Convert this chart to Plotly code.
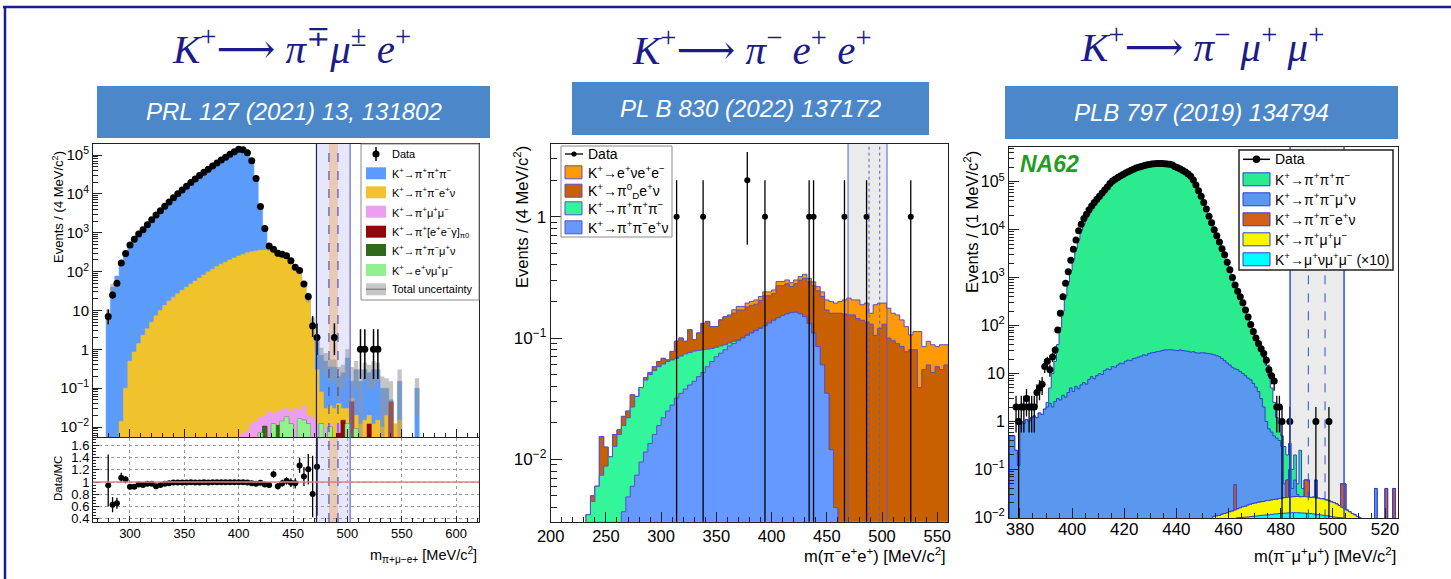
import numpy as np
import plotly.graph_objects as go

W, H = 1451, 579
def X(px): return px / W
def Y(py): return 1 - py / H

SANS = "Liberation Sans, Arial, sans-serif"
SERIF = "Liberation Serif, DejaVu Serif, serif"
FLOOR = 1e-9
NAVY = "#1c1c88"

# ============ Panel 1 : K+ -> pi mu e  (4 MeV bins, first centre 280) ============
p1_centre0, p1_bw = 280, 4
p1_data = [
    7, 25, 50, 165, 290, 480, 680, 920, 1200, 1600,
    2150, 2850, 3700, 4800, 6200, 7900, 10000, 12600, 15800, 19500,
    24000, 29500, 36000, 43000, 52000, 62000, 74000, 88000, 104000, 122000,
    140000, 137000, 115000, 71000, 25000, 4700, 1290, 455, 375, 295,
    280, 255, 190, 130, 107, 48, 23, 4, 2, 0,
    0, 0, 2, 0, 0, 0, 0, 0, 1, 1,
    0, 1, 1, 0, 0, 0, 0, 0, 0, 0,
    0, 0]
p1_mc_total = [
    7.4, 40, 77, 154, 279, 522, 739, 958, 1263, 1649,
    2216, 3065, 3895, 4948, 6327, 7980, 10100, 12700, 15900, 19600,
    24200, 29700, 36200, 43300, 52300, 62300, 74300, 88300, 104500, 122500,
    140500, 137500, 116000, 72400, 25800, 4750, 1344, 479, 332, 317,
    286, 250, 192, 133, 84, 44, 19, 5, 1.6, 0.7,
    0.5, 0.35, 0.35, 0.2, 0.25, 0.6, 0.15, 0.3, 0.15, 0.3,
    0.25, 0.3, 0.3, 0.1, 0.1, 0.05, 0, 0.15, 0, 0,
    0, 0.1]
p1_mc_unc = [3, 8] + [0] * 44 + [
    3, 1.5, 0.6, 0.4, 0.3, 0.2, 0.2, 0.15, 0.15, 0.4,
    0.2, 0.2, 0.15, 0.15, 0.15, 0.2, 0.15, 0.1, 0.08, 0.1,
    0, 0.15, 0, 0, 0, 0.08]
p1_top_pipienu = [
    0, 0, 0, 0.014, 0.1, 0.5, 0.85, 1.4, 2.3, 3.4,
    5.0, 7.3, 10, 13.5, 17.5, 22, 27, 33, 40, 48,
    57, 68, 82, 98, 115, 135, 155, 175, 200, 225,
    250, 275, 305, 325, 340, 352, 358, 345, 320, 297,
    275, 250, 190, 133, 84, 44, 19, 4.5, 0.3, 0.08,
    0.03, 0.035, 0.03, 0.04, 0.03, 0.03, 0.055, 0.02, 0.012, 0.015,
    0.02, 0.012, 0.015, 0.01, 0.02, 0.045, 0.012, 0.015, 0, 0,
    0, 0]
p1_top_pimumu = [0] * 31 + [
    0.007, 0.008, 0.012, 0.014, 0.018, 0.02, 0.025, 0.022, 0.025,
    0.028, 0.03, 0.025, 0.03, 0.028, 0.035, 0.02, 0.018, 0.012, 0.012,
    0.01, 0.012, 0, 0.012, 0, 0.01, 0, 0, 0, 0] + [0] * 12
p1_eeg_bins = [492, 496, 504, 520, 540]
p1_eeg_top = [0.007, 0.015, 0.045, 0.012, 0.045]
p1_pipimunu_bins = [424, 436, 456]
p1_pipimunu_top = [0.0105, 0.011, 0.008]
p1_enumumu_bins = [420, 432, 440, 444, 448, 456, 460, 464, 476, 484, 500, 508]
p1_enumumu_top = [0.007, 0.012, 0.014, 0.018, 0.012, 0.016, 0.015, 0.012, 0.012, 0.01, 0.012, 0.009]

# ============ Panel 2 : K+ -> pi- e+ e+  (4 MeV bins from 200) ============
p2_edge0, p2_bw = 200, 4
p2_top_pipienu = [0] * 15 + [
    0.003, 0.0037, 0.0049, 0.006, 0.0074, 0.0095, 0.0115, 0.0135, 0.016, 0.019,
    0.022, 0.025, 0.028, 0.032, 0.035, 0.038, 0.041, 0.044, 0.048, 0.052,
    0.058, 0.064, 0.07, 0.075, 0.08, 0.086, 0.09, 0.095, 0.1, 0.105,
    0.11, 0.115, 0.12, 0.126, 0.133, 0.14, 0.147, 0.153, 0.158, 0.162,
    0.163, 0.158, 0.15, 0.132, 0.11, 0.085, 0.06, 0.035, 0.012, 0.004] + [0] * 25
p2_top_3pi = [0] * 8 + [
    0.0035, 0.0045, 0.006, 0.0074, 0.0088, 0.0105, 0.0128, 0.016, 0.019, 0.022,
    0.027, 0.033, 0.039, 0.045, 0.05, 0.054, 0.058, 0.061, 0.064, 0.066,
    0.068, 0.071, 0.074, 0.076, 0.078, 0.079, 0.08, 0.081, 0.082, 0.084,
    0.086, 0.088, 0.091, 0.094, 0.097, 0.101, 0.106, 0.111, 0.116, 0.121,
    0.127] + [0] * 41
p2_top_pi0d = [0] * 9 + [
    0.005, 0.006, 0.0154, 0.0126, 0,
    0.016, 0.0175, 0.0226, 0.025, 0.034,
    0.031, 0.039, 0.047, 0.052, 0.058,
    0.064, 0.068, 0.066, 0.0775, 0.094,
    0.1, 0.094, 0.117, 0.097, 0.11,
    0.132, 0.137, 0.124, 0.124, 0.141,
    0.15, 0.152, 0.16, 0.17, 0.17,
    0.18, 0.186, 0.19, 0.204, 0.223,
    0.223, 0.232, 0.27, 0.27, 0.28,
    0.266, 0.28, 0.3, 0.31, 0.29,
    0.27, 0.245, 0.22, 0.17, 0.16,
    0.16, 0.16, 0.158, 0.155, 0.155,
    0.145, 0.14, 0.135, 0.13, 0.105,
    0.12, 0.13, 0.1, 0.095, 0.09,
    0.085, 0.077, 0.08, 0.08, 0.039,
    0.055, 0.06, 0.052, 0.058, 0.055, 0.06]
p2_top_enuee = [0] * 40 + [
    0.155, 0.171, 0.182, 0.182, 0.194, 0.2, 0.206, 0.22, 0.24, 0.24,
    0.249, 0.292, 0.292, 0.301, 0.286, 0.301, 0.321, 0.335, 0.31, 0.29,
    0.265, 0.24, 0.206, 0.2, 0.194, 0.2, 0.206, 0.213, 0.206, 0.206,
    0.188, 0.194, 0.16, 0.188, 0.194, 0.194, 0.176, 0.16, 0.155, 0.141,
    0.124, 0.106, 0.113, 0.113, 0.085, 0.094, 0.088, 0.085, 0.088, 0.088]
p2_data_mass = [314, 338, 378, 394, 434, 438, 466, 486, 526]
p2_data_n = [1, 1, 2, 1, 1, 1, 1, 1, 1]

# ============ Panel 3 : K+ -> pi- mu+ mu+  (1 MeV bins from 376) ============
p3_edge0, p3_bw = 376, 1
p3_data = [
    0, 0, 2, 1, 2, 2, 3, 2, 2, 2,
    4, 5, 6, 14, 18, 12, 22, 31, 81, 180,
    400, 760, 1330, 2300, 3900, 6100, 9500, 13000, 17000, 21000,
    26000, 31000, 37000, 43000, 50000, 58000, 67000, 78000, 92000, 103000,
    112000, 122000, 132000, 142000, 152000, 162000, 172000, 182000, 192000, 200000,
    208000, 215000, 222000, 228000, 233000, 237000, 239000, 240000, 240000, 238000,
    235000, 230000, 222000, 205000, 195000, 185000, 172000, 160000, 145000, 130000,
    108000, 85000, 65000, 50000, 37000, 27000, 19000, 14000, 10000, 7500,
    5500, 4000, 3000, 2100, 1450, 1000, 700, 520, 400, 300,
    210, 150, 105, 75, 55, 42, 33, 26, 19, 12,
    9, 7, 2, 2, 1, 0, 0, 1, 0, 0,
    0, 0, 0, 0, 0, 0, 0, 1, 0, 0,
    0, 0, 1, 0]
p3_top_3pi = [0] * 14 + [
    2.5, 5, 10, 18, 40, 90, 200, 420, 800, 1400,
    2400, 4000, 6300, 9500, 13000, 17000, 21000, 26000, 31000, 37000,
    43000, 50000, 58000, 67000, 77000, 88000, 98000, 108000, 118000, 128000,
    138000, 148000, 158000, 168000, 178000, 188000, 197000, 205000, 212000, 219000,
    225000, 230000, 233000, 235000, 236000, 235000, 232000, 227000, 220000, 210000,
    198000, 186000, 172000, 158000, 143000, 127000, 107000, 85000, 66000, 50000,
    37000, 27000, 19500, 14000, 10200, 7500, 5500, 4000, 2900, 2100,
    1450, 1000, 720, 530, 400, 300, 215, 150, 105, 75,
    55, 40, 30, 22, 15, 9, 5, 2.5, 1.2, 0.9,
    0.5, 0.3, 0.2, 0.35, 0.1, 0.2, 0.05, 0.25, 0.04]
p3_top_pipimunu = [
    0.5, 0.5, 0.25, 0.12, 1.0, 0.9, 1.1, 1.0, 1.2, 1.3,
    1.2, 1.5, 1.4, 1.8, 2.0, 2.4, 2.0, 2.6, 3.0, 2.8,
    3.5, 3.2, 4.0, 5.0, 4.2, 5.4, 4.8, 5.8, 6.5, 6.0,
    7.5, 8.6, 7.8, 9.0, 10.0, 9.5, 11.5, 12.5, 12.0, 14.0,
    13.5, 15.0, 16.5, 16.0, 18.0, 19.0, 18.5, 20.5, 21.0, 22.0,
    23.0, 24.5, 24.0, 26.0, 27.0, 27.5, 28.5, 29.0, 30.0, 31.0,
    31.0, 31.5, 31.0, 30.5, 30.0, 31.0, 30.0, 29.5, 29.0, 28.0,
    28.5, 27.0, 26.5, 27.0, 27.0, 26.5, 26.0, 25.5, 24.5, 23.5,
    22.5, 20.5, 18.5, 16.5, 15.0, 13.5, 12.5, 12.0, 11.0, 10.0,
    9.0, 8.0, 7.4, 6.2, 5.2, 4.2, 3.0, 2.0, 1.0, 0.7,
    0.6, 0.5, 0.45, 0.4, 0.3, 0.05, 0.06, 0.1, 0.04, 0.06,
    0.03]
p3_pipimunu_extra_bins = [493, 516]
p3_pipimunu_extra_top = [0.06, 0.04]
p3_pipienu_bins = [462, 482, 489, 490, 503, 504, 520, 523]
p3_pipienu_top = [0.048, 0.06, 0.06, 0.06, 0.05, 0.05, 0.04, 0.04]
p3_pimumu_first = 454
p3_top_pimumu = [
    0.0105, 0.0107, 0.011, 0.0116, 0.012, 0.0124, 0.0131, 0.0135, 0.0142, 0.015,
    0.0158, 0.0166, 0.017, 0.018, 0.0188, 0.0195, 0.0199, 0.0206, 0.021, 0.0214,
    0.0222, 0.0224, 0.023, 0.0236, 0.0239, 0.0246, 0.025, 0.0257, 0.026, 0.0262,
    0.0268, 0.027, 0.0272, 0.0268, 0.027, 0.0271, 0.0265, 0.026, 0.0262, 0.0254,
    0.025, 0.0244, 0.0241, 0.023, 0.0222, 0.021, 0.0202, 0.019, 0.0176, 0.0162,
    0.015, 0.0141, 0.013, 0.012, 0.0112, 0.0104, 0.0096, 0.009, 0.0085]
p3_munumumu_first = 463
p3_top_munumumu = [
    0.0098, 0.0099, 0.01, 0.0101, 0.0102, 0.0104, 0.0105, 0.0106, 0.0108, 0.011,
    0.0111, 0.0112, 0.0113, 0.0115, 0.0117, 0.0118, 0.012, 0.0121, 0.0122, 0.0123,
    0.0124, 0.0125, 0.0125, 0.0125, 0.0124, 0.0123, 0.0122, 0.0121, 0.012, 0.0118,
    0.0116, 0.0114, 0.0112, 0.011, 0.0108, 0.0106, 0.0104, 0.0102, 0.01, 0.0099, 0.0098]

# ---------------- helpers ----------------
def fit(a, n):
    a = [float(v) for v in list(a)[:n]]
    return np.array(a + [0.0] * (n - len(a)))

def sparse(n, first_centre, bw, bins, vals):
    out = np.zeros(n)
    for b, v in zip(bins, vals):
        k = int(round((b - first_centre) / bw))
        if 0 <= k < n:
            out[k] = v
    return out

def cumulate(layers):
    out, prev = [], None
    for L in layers:
        L = np.asarray(L, float)
        if prev is not None:
            L = np.maximum(L, prev)
        out.append(L)
        prev = L
    return out

def step_xy(e0, bw, vals):
    v = np.asarray(vals, float)
    v = np.where(v > 0, v, FLOOR)
    edges = e0 + bw * np.arange(len(v) + 1)
    xs = np.concatenate([[edges[0]], edges, [edges[-1]]])
    ys = np.concatenate([[FLOOR], v, [v[-1]], [FLOOR]])
    return xs, ys

def hist(xa, ya, e0, bw, vals, fill, line=None, lw=0.6):
    xs, ys = step_xy(e0, bw, vals)
    return go.Scatter(x=xs, y=ys, xaxis=xa, yaxis=ya, mode="lines",
                      line=dict(shape="hv", color=line or fill, width=lw),
                      fill="toself", fillcolor=fill, hoverinfo="skip", showlegend=False)

GARWOOD = {1: (0.173, 3.300), 2: (0.708, 4.638), 3: (1.367, 5.918), 4: (2.086, 7.163),
           5: (2.840, 8.382), 6: (3.620, 9.584), 7: (4.419, 10.77), 8: (5.232, 11.95)}
def garwood(n):
    if n in GARWOOD:
        lo, hi = GARWOOD[n]
        return n - lo, hi - n
    s = np.sqrt(n)
    return s, s

traces = []

# ---------------- Panel 1 traces ----------------
n1 = len(p1_data)
p1_e0 = p1_centre0 - p1_bw / 2
c1 = p1_centre0 + p1_bw * np.arange(n1)
d1 = fit(p1_data, n1)
mc1 = fit(p1_mc_total, n1)
unc1 = fit(p1_mc_unc, n1)
L1 = cumulate([
    sparse(n1, p1_centre0, p1_bw, p1_enumumu_bins, p1_enumumu_top),
    sparse(n1, p1_centre0, p1_bw, p1_pipimunu_bins, p1_pipimunu_top),
    sparse(n1, p1_centre0, p1_bw, p1_eeg_bins, p1_eeg_top),
    fit(p1_top_pimumu, n1),
    fit(p1_top_pipienu, n1),
    mc1])
p1_cols = ["#8ff28f", "#2f6a1c", "#8b0a0a", "#ea9ff2", "#f0c32d", "#5b9cfb"]
for lev, col in reversed(list(zip(L1, p1_cols))):
    traces.append(hist("x", "y", p1_e0, p1_bw, lev, col, lw=0.5))

ux, uy = [], []
for i in range(n1):
    if unc1[i] > 0:
        lo = max(L1[-1][i] - unc1[i], 1e-4)
        hi = L1[-1][i] + unc1[i]
        a, b = c1[i] - p1_bw / 2, c1[i] + p1_bw / 2
        ux += [a, b, b, a, a, None]
        uy += [lo, lo, hi, hi, lo, None]
traces.append(go.Scatter(x=ux, y=uy, xaxis="x", yaxis="y", mode="lines", line=dict(width=0),
                         fill="toself", fillcolor="rgba(150,150,150,0.55)", hoverinfo="skip", showlegend=False))

m1 = d1 > 0
e_lo = np.array([garwood(int(n))[0] for n in d1[m1]])
e_hi = np.array([garwood(int(n))[1] for n in d1[m1]])
traces.append(go.Scatter(x=c1[m1], y=d1[m1], xaxis="x", yaxis="y", mode="markers",
                         marker=dict(color="black", size=7),
                         error_y=dict(type="data", array=e_hi, arrayminus=e_lo, color="black", thickness=1.5, width=0),
                         hoverinfo="skip", showlegend=False))
rmask = (d1 > 0) & (mc1 > 0) & (np.arange(n1) <= 48)
r = d1[rmask] / mc1[rmask]
r_lo = np.array([garwood(int(n))[0] for n in d1[rmask]]) / mc1[rmask]
r_hi = np.array([garwood(int(n))[1] for n in d1[rmask]]) / mc1[rmask]
traces.append(go.Scatter(x=c1[rmask], y=r, xaxis="x2", yaxis="y2", mode="markers",
                         marker=dict(color="black", size=6),
                         error_y=dict(type="data", array=r_hi, arrayminus=r_lo, color="black", thickness=1.3, width=0),
                         hoverinfo="skip", showlegend=False))

# ---------------- Panel 2 traces ----------------
n2 = 90
L2 = cumulate([fit(p2_top_pipienu, n2), fit(p2_top_3pi, n2), fit(p2_top_pi0d, n2), fit(p2_top_enuee, n2)])
p2_cols = ["#6699ff", "#33f59a", "#c85f00", "#ff9a00"]
for lev, col in reversed(list(zip(L2, p2_cols))):
    traces.append(hist("x3", "y3", p2_edge0, p2_bw, lev, col, line="#5a4fc8", lw=1))
n2d = np.array(p2_data_n, float)
traces.append(go.Scatter(x=p2_data_mass, y=n2d, xaxis="x3", yaxis="y3", mode="markers",
                         marker=dict(color="black", size=6),
                         error_y=dict(type="data", array=np.sqrt(n2d),
                                      arrayminus=np.minimum(np.sqrt(n2d), n2d - 1e-4),
                                      color="black", thickness=1.3, width=0),
                         hoverinfo="skip", showlegend=False))

# ---------------- Panel 3 traces ----------------
n3 = 149
blue3 = fit(p3_top_pipimunu, n3) + sparse(n3, p3_edge0, 1, p3_pipimunu_extra_bins, p3_pipimunu_extra_top)
cyan3 = np.zeros(n3); k0 = p3_munumumu_first - p3_edge0; cyan3[k0:k0 + len(p3_top_munumumu)] = p3_top_munumumu
yel3 = np.zeros(n3); k0 = p3_pimumu_first - p3_edge0; yel3[k0:k0 + len(p3_top_pimumu)] = p3_top_pimumu
L3 = cumulate([cyan3, yel3, sparse(n3, p3_edge0, 1, p3_pipienu_bins, p3_pipienu_top), blue3, fit(p3_top_3pi, n3)])
p3_cols = ["#00ffff", "#f7f700", "#d2601a", "#5a98f0", "#2ceb8e"]
for lev, col in reversed(list(zip(L3, p3_cols))):
    traces.append(hist("x4", "y4", p3_edge0, p3_bw, lev, col, line="#2f3fd0", lw=1))
d3 = fit(p3_data, n3)
c3 = p3_edge0 + 0.5 + np.arange(n3)
m3 = d3 > 0
traces.append(go.Scatter(x=c3[m3], y=d3[m3], xaxis="x4", yaxis="y4", mode="markers",
                         marker=dict(color="black", size=7),
                         error_y=dict(type="data", array=np.sqrt(d3[m3]),
                                      arrayminus=np.minimum(np.sqrt(d3[m3]), d3[m3] - 1e-4),
                                      color="black", thickness=1.3, width=0),
                         hoverinfo="skip", showlegend=False))

fig = go.Figure(traces)

# ---------------- axes ----------------
def lin_axis(domain, rng, anchor, tickvals, ticktext=None, show=True, size=13, ticklen=8,
             minor=None, minorlen=4, grid=False, standoff=0):
    d = dict(domain=domain, range=rng, anchor=anchor, showline=True, linecolor="#222", linewidth=1,
             mirror=True, ticks="inside", ticklen=ticklen, tickwidth=1, tickcolor="#222",
             tickmode="array", tickvals=tickvals, showticklabels=show, automargin=False,
             ticklabelstandoff=standoff,
             tickfont=dict(family=SANS, size=size, color="#000"), showgrid=grid, zeroline=False)
    if ticktext is not None:
        d["ticktext"] = ticktext
    if minor:
        d["minor"] = dict(ticks="inside", ticklen=minorlen, tickwidth=1, tickcolor="#222",
                          tick0=0, dtick=minor, showgrid=False)
    if grid:
        d.update(gridcolor="#9a9a9a", griddash="dot", gridwidth=1)
    return d

def log_label(d):
    if d == 0: return "1"
    if d == 1: return "10"
    return "10<sup>%s</sup>" % (str(d).replace("-", "−"))

def log_axis(domain, rng, anchor, decades, size, ticklen=9, minorlen=5):
    mv = [k * 10.0 ** d for d in range(min(decades) - 1, max(decades) + 1) for k in range(2, 10)]
    return dict(domain=domain, range=rng, anchor=anchor, type="log", showline=True, linecolor="#222",
                linewidth=1, mirror=True, ticks="inside", ticklen=ticklen, tickwidth=1, tickcolor="#222",
                tickmode="array", tickvals=[10.0 ** d for d in decades], automargin=False,
                ticktext=[log_label(d) for d in decades],
                tickfont=dict(family=SANS, size=size, color="#000"), showgrid=False, zeroline=False,
                minor=dict(ticks="inside", ticklen=minorlen, tickwidth=1, tickcolor="#222",
                           tickmode="array", tickvals=mv, showgrid=False))

x50 = list(range(300, 601, 50))
fig.update_layout(
    xaxis=lin_axis([X(93), X(479)], [266, 621], "y", x50, show=False, minor=10),
    yaxis=log_axis([Y(437), Y(144)], [-2.257, 5.283], "x", list(range(-2, 6)), 15),
    xaxis2=lin_axis([X(93), X(479)], [266, 621], "y2", x50, [str(v) for v in x50], size=13,
                    ticklen=6, minor=10, grid=True, standoff=-1),
    yaxis2=lin_axis([Y(522), Y(438)], [0.339, 1.727], "x2", [0.4, 0.6, 0.8, 1.0, 1.2, 1.4, 1.6],
                    ["0.4", "0.6", "0.8", "1", "1.2", "1.4", "1.6"], size=13, ticklen=6, minor=0.05,
                    minorlen=3, grid=True),
    xaxis3=lin_axis([X(550.7), X(948.3)], [200, 560], "y3", list(range(200, 551, 50)),
                    [str(v) for v in range(200, 551, 50)], size=16.5, ticklen=10, minor=10, minorlen=5,
                    standoff=-1),
    yaxis3=log_axis([Y(521.7), Y(144)], [-2.514, 0.599], "x3", [-2, -1, 0], 17, ticklen=11, minorlen=6),
    xaxis4=lin_axis([X(1009), X(1398.3)], [375.8, 525.1], "y4", list(range(380, 521, 20)),
                    [str(v) for v in range(380, 521, 20)], size=17, ticklen=10, minor=5, minorlen=5,
                    standoff=-5),
    yaxis4=log_axis([Y(518.3), Y(146.7)], [-2.02, 5.73], "x4", list(range(-2, 6)), 16, ticklen=10, minorlen=5),
)

# ---------------- shapes ----------------
shapes = []
def rect(x0, y0, x1, y1, fill, line=None, lw=0, layer="above"):
    return dict(type="rect", xref="paper", yref="paper", x0=X(x0), x1=X(x1), y0=Y(y1), y1=Y(y0),
                fillcolor=fill, line=dict(color=line or fill, width=lw), layer=layer)
def pline(x0, y0, x1, y1, color, w=1, dash=None, layer="above"):
    d = dict(type="line", xref="paper", yref="paper", x0=X(x0), x1=X(x1), y0=Y(y0), y1=Y(y1),
             line=dict(color=color, width=w), layer=layer)
    if dash: d["line"]["dash"] = dash
    return d
def vband(xref, a, b, y0p, y1p, fill):
    return dict(type="rect", xref=xref, yref="paper", x0=a, x1=b, y0=Y(y1p), y1=Y(y0p),
                fillcolor=fill, line=dict(width=0), layer="below")
def vline(xref, xv, y0p, y1p, color, w=1, dash=None):
    d = dict(type="line", xref=xref, yref="paper", x0=xv, x1=xv, y0=Y(y1p), y1=Y(y0p),
             line=dict(color=color, width=w), layer="above")
    if dash: d["line"]["dash"] = dash
    return d
def dot(cx, cy, r, color="black"):
    return dict(type="circle", xref="paper", yref="paper", x0=X(cx - r), x1=X(cx + r),
                y0=Y(cy + r), y1=Y(cy - r), fillcolor=color, line=dict(color=color, width=0), layer="above")

shapes.append(pline(3, 7, 1451, 7, "#1c1c8c", 2.5))
shapes.append(pline(5, 7, 5, 579, "#1c1c8c", 2.5))
shapes.append(rect(97, 86, 490, 138, "#4b87c9"))
shapes.append(rect(572, 82, 929, 135, "#4b87c9"))
shapes.append(rect(1005, 86, 1398, 139, "#4b87c9"))

shapes.append(vband("x", 471.5, 502.5, 144, 522, "rgba(190,190,250,0.38)"))
shapes.append(vband("x", 483.0, 491.3, 144, 522, "rgba(232,196,170,0.85)"))
shapes.append(vline("x", 471.5, 144, 522, "#20205a", 1.2))
shapes.append(vline("x", 502.5, 144, 522, "#6a6ad8", 1.2))
shapes.append(vline("x", 483.0, 144, 522, "#3a3aa0", 1, "dash"))
shapes.append(vline("x", 491.3, 144, 522, "#3a3aa0", 1, "dash"))
shapes.append(dict(type="line", xref="x2", yref="y2", x0=266, x1=621, y0=1, y1=1,
                   line=dict(color="#e88080", width=1.5), layer="above"))
shapes.append(vband("x3", 469.2, 504.5, 144, 521.7, "rgba(215,215,215,0.5)"))
shapes.append(vline("x3", 469.2, 144, 521.7, "#5b5bd6", 1))
shapes.append(vline("x3", 504.5, 144, 521.7, "#5b5bd6", 1))
shapes.append(vline("x3", 488.2, 144, 521.7, "#5b5bd6", 1, "dot"))
shapes.append(vline("x3", 497.9, 144, 521.7, "#5b5bd6", 1, "dot"))
shapes.append(vband("x4", 483.6, 504.3, 146.7, 518.3, "rgba(215,215,215,0.5)"))
shapes.append(vline("x4", 483.6, 146.7, 518.3, "#3050dd", 1.5))
shapes.append(vline("x4", 504.3, 146.7, 518.3, "#3050dd", 1.5))
shapes.append(vline("x4", 490.6, 146.7, 518.3, "#3050dd", 1, "dash"))
shapes.append(vline("x4", 497.0, 146.7, 518.3, "#3050dd", 1, "dash"))

annotations = []
def txt(x, y, s, size, color="#000", xanchor="left", yanchor="middle", family=SANS, angle=0):
    annotations.append(dict(xref="paper", yref="paper", x=X(x), y=Y(y), text=s, showarrow=False,
                            xanchor=xanchor, yanchor=yanchor, textangle=angle,
                            font=dict(family=family, size=size, color=color)))

# legend panel 1
shapes.append(rect(361, 144, 479, 300, "white", "#8a8a8a", 1))
leg1_y = [154, 173.3, 192.3, 211.7, 231.7, 250, 270, 289.3]
shapes.append(pline(376, leg1_y[0] - 7, 376, leg1_y[0] + 7, "black", 1.5))
shapes.append(dot(376, leg1_y[0], 3.5))
leg1_cols = ["#5b9cfb", "#f0c32d", "#ea9ff2", "#8b0a0a", "#2f6a1c", "#8ff28f"]
for yy, col in zip(leg1_y[1:7], leg1_cols):
    shapes.append(rect(366, yy - 6, 386, yy + 6, col))
shapes.append(rect(366, leg1_y[7] - 6, 386, leg1_y[7] + 6, "#c6c6c6"))
shapes.append(pline(366, leg1_y[7], 386, leg1_y[7], "#8a8a8a", 1.5))
leg1_txt = ["Data",
            "K<sup>+</sup>→π<sup>+</sup>π<sup>+</sup>π<sup>−</sup>",
            "K<sup>+</sup>→π<sup>+</sup>π<sup>−</sup>e<sup>+</sup>ν",
            "K<sup>+</sup>→π<sup>+</sup>μ<sup>+</sup>μ<sup>−</sup>",
            "K<sup>+</sup>→π<sup>+</sup>[e<sup>+</sup>e<sup>−</sup>γ]<sub>π0</sub>",
            "K<sup>+</sup>→π<sup>+</sup>π<sup>−</sup>μ<sup>+</sup>ν",
            "K<sup>+</sup>→e<sup>+</sup>νμ<sup>+</sup>μ<sup>−</sup>",
            "Total uncertainty"]
for yy, s in zip(leg1_y, leg1_txt):
    txt(390, yy, s, 11)

# legend panel 2
shapes.append(rect(561, 146, 672, 237, "white", "#8a8a8a", 1))
leg2_y = [154, 172.3, 190.7, 208.3, 227.3]
shapes.append(pline(565, leg2_y[0], 583, leg2_y[0], "black", 1.3))
shapes.append(dot(574, leg2_y[0], 2.6))
for yy, col in zip(leg2_y[1:], ["#ff9a00", "#c85f00", "#33f59a", "#6699ff"]):
    shapes.append(rect(565, yy - 6.5, 582, yy + 6.5, col, "#5a4fc8", 1))
leg2_txt = ["Data",
            "K<sup>+</sup>→e<sup>+</sup>νe<sup>+</sup>e<sup>−</sup>",
            "K<sup>+</sup>→π<sup>0</sup><sub>D</sub>e<sup>+</sup>ν",
            "K<sup>+</sup>→π<sup>+</sup>π<sup>+</sup>π<sup>−</sup>",
            "K<sup>+</sup>→π<sup>+</sup>π<sup>−</sup>e<sup>+</sup>ν"]
for yy, s in zip(leg2_y, leg2_txt):
    txt(586, yy, s, 14)

# legend panel 3
shapes.append(rect(1239, 150, 1393, 270, "white", "#222", 1.5))
leg3_y = [159.3, 179.3, 199.3, 219.3, 239.3, 259.3]
shapes.append(pline(1243, leg3_y[0], 1270, leg3_y[0], "black", 1.5))
shapes.append(dot(1256.5, leg3_y[0], 3.8))
for yy, col in zip(leg3_y[1:], ["#2ceb8e", "#5a98f0", "#d2601a", "#f7f700", "#00ffff"]):
    shapes.append(rect(1243, yy - 6.5, 1270, yy + 6.5, col, "#2f3fd0", 1))
leg3_txt = ["Data",
            "K<sup>+</sup>→π<sup>+</sup>π<sup>+</sup>π<sup>−</sup>",
            "K<sup>+</sup>→π<sup>+</sup>π<sup>−</sup>μ<sup>+</sup>ν",
            "K<sup>+</sup>→π<sup>+</sup>π<sup>−</sup>e<sup>+</sup>ν",
            "K<sup>+</sup>→π<sup>+</sup>μ<sup>+</sup>μ<sup>−</sup>",
            "K<sup>+</sup>→μ<sup>+</sup>νμ<sup>+</sup>μ<sup>−</sup> (×10)"]
for yy, s in zip(leg3_y, leg3_txt):
    txt(1273, yy, s, 14)

# titles
txt(291, 46, "<i>K</i><sup>+</sup>⟶ <i>π</i><sup>∓</sup><i>μ</i><sup>±</sup> <i>e</i><sup>+</sup>", 41, NAVY, "center", family=SERIF)
txt(752, 47, "<i>K</i><sup>+</sup>⟶ <i>π</i><sup>−</sup> <i>e</i><sup>+</sup> <i>e</i><sup>+</sup>", 41, NAVY, "center", family=SERIF)
txt(1202, 44, "<i>K</i><sup>+</sup>⟶ <i>π</i><sup>−</sup> <i>μ</i><sup>+</sup> <i>μ</i><sup>+</sup>", 41, NAVY, "center", family=SERIF)
txt(293.5, 112, "<i>PRL 127 (2021) 13, 131802</i>", 24, "white", "center")
txt(750.5, 108.5, "<i>PL B 830 (2022) 137172</i>", 24, "white", "center")
txt(1201.5, 112.5, "<i>PLB 797 (2019) 134794</i>", 24, "white", "center")

# axis titles
txt(58, 207, "Events / (4 MeV/c<sup>2</sup>)", 13, angle=-90, xanchor="center")
txt(58, 478, "Data/MC", 11.5, angle=-90, xanchor="center")
txt(479, 555, "m<sub>π+μ−e+</sub> [MeV/c<sup>2</sup>]", 14.5, xanchor="right")
txt(521, 217, "Events / (4 MeV/c<sup>2</sup>)", 16.5, angle=-90, xanchor="center")
txt(948, 555, "m(π<sup>−</sup>e<sup>+</sup>e<sup>+</sup>) [MeV/c<sup>2</sup>]", 16.5, xanchor="right")
txt(971, 222, "Events / (1 MeV/c<sup>2</sup>)", 16.5, angle=-90, xanchor="center")
txt(1398, 555, "m(π<sup>−</sup>μ<sup>+</sup>μ<sup>+</sup>) [MeV/c<sup>2</sup>]", 16.5, xanchor="right")
txt(1018, 164, "<b><i>NA62</i></b>", 23, "#1f9e1f")

fig.update_layout(shapes=shapes, annotations=annotations, width=W, height=H,
                  margin=dict(l=0, r=0, t=0, b=0, pad=0, autoexpand=False),
                  paper_bgcolor="white", plot_bgcolor="white",
                  showlegend=False, barmode="overlay")
fig.write_html("out.html", include_plotlyjs=True, full_html=True,
               config=dict(displayModeBar=False, staticPlot=True))
